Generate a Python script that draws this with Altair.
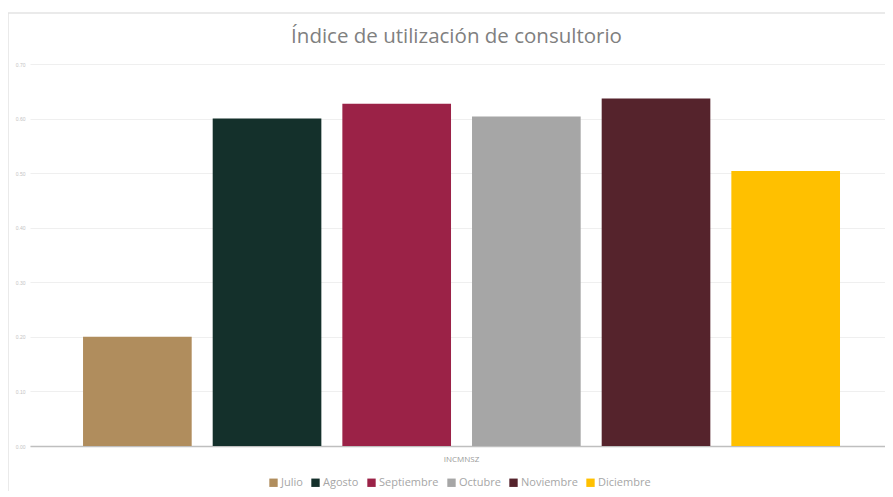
import altair as alt
import pandas as pd

months = ["Julio", "Agosto", "Septiembre", "Octubre", "Noviembre", "Diciembre"]
values = [0.20, 0.60, 0.627, 0.604, 0.637, 0.504]
colors = ["#B08D5D", "#14302B", "#9B2247", "#A6A6A6", "#55232C", "#FFC000"]
y_ticks = [0.0, 0.1, 0.2, 0.3, 0.4, 0.5, 0.6, 0.7]
group = "INCMNSZ"
title = "Índice de utilización de consultorio"

df = pd.DataFrame({"mes": months, "valor": values})

bars = alt.Chart(df).mark_bar().encode(
    x=alt.X("mes:N", sort=months,
            scale=alt.Scale(paddingInner=0.162, paddingOuter=0.378, align=0.541),
            axis=alt.Axis(labels=False, ticks=False, title=group,
                          domainColor="#bfbfbf", domainWidth=1.5,
                          titleFontSize=8, titleColor="#999999",
                          titleFont="Open Sans", titleFontWeight="normal",
                          titlePadding=9, titleX=431)),
    y=alt.Y("valor:Q", scale=alt.Scale(domain=[0, 0.7], nice=False),
            axis=alt.Axis(values=y_ticks, format=".2f", title=None,
                          domain=False, ticks=False, gridColor="#efefef",
                          labelFontSize=5, labelColor="#c4c4c4",
                          labelPadding=5)),
    color=alt.Color("mes:N", sort=months,
                    scale=alt.Scale(domain=months, range=colors),
                    legend=alt.Legend(title=None, orient="none",
                                      legendX=238, legendY=413,
                                      direction="horizontal",
                                      symbolType="square", symbolSize=70,
                                      symbolStrokeWidth=0,
                                      labelFontSize=11, labelColor="#a6a6a6",
                                      labelFont="Open Sans",
                                      columnPadding=7, labelOffset=2)),
)

frame = alt.Chart(alt.Data(values=[{"a": 1}])).mark_rect(
    fill=None, stroke="#e3e3e3", strokeWidth=1.5
).encode(
    x=alt.value(-22), x2=alt.value(900), y=alt.value(-51), y2=alt.value(520)
)

chart = alt.layer(frame, bars).properties(
    width=855,
    height=382,
    title=alt.TitleParams(title, fontSize=20.5, color="#808080",
                          font="Open Sans", fontWeight="normal",
                          anchor="middle", frame="group", offset=0,
                          dx=-1, dy=35),
    autosize=alt.AutoSizeParams(type="none"),
    padding={"left": 22, "top": 56, "right": 0, "bottom": 45},
).configure_view(stroke=None)

chart.save("out.html", embed_options={"renderer": "svg", "actions": False})
